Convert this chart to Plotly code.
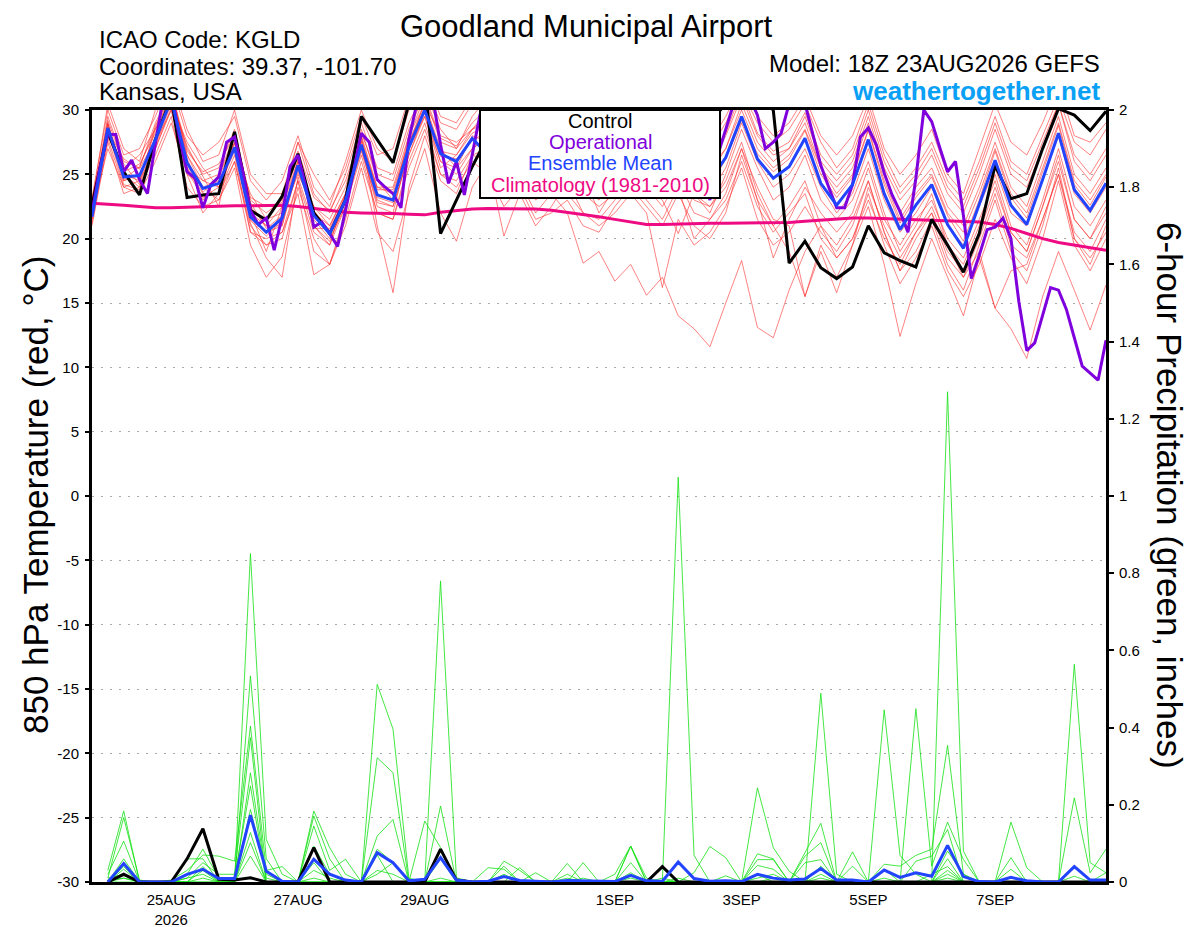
import pandas as pd
import plotly.graph_objects as go

# time axes: temperature every 6h from 18Z 23AUG, operational every 3h, precip accumulations end 00Z 24AUG
times = pd.date_range("2026-08-23 18:00", periods=65, freq="6h")
op_times = pd.date_range("2026-08-23 18:00", periods=129, freq="3h")
precip_times = pd.date_range("2026-08-24 00:00", periods=64, freq="6h")

tick_dates = ["2026-08-25", "2026-08-27", "2026-08-29", "2026-09-01", "2026-09-03", "2026-09-05", "2026-09-07"]
tick_text = ["25AUG<br>2026", "27AUG", "29AUG", "1SEP", "3SEP", "5SEP", "7SEP"]
temp_ticks = [-30, -25, -20, -15, -10, -5, 0, 5, 10, 15, 20, 25, 30]
precip_ticks = [0, 0.2, 0.4, 0.6, 0.8, 1, 1.2, 1.4, 1.6, 1.8, 2]

# 850 hPa temperature (C)
control_t = [22.6, 28.3, 25.2, 23.4, 27.7, 31.0, 23.2, 23.4, 23.5, 28.3,
             22.2, 21.45, 23.3, 26.6, 22.0, 20.4, 23.0, 29.5, 27.7, 25.9,
             30.5, 32.0, 20.4, 23.0, 25.6, 28.0, 29.5, 31.0, 28.0, 26.5,
             28.5, 30.0, 27.5, 26.0, 27.5, 29.0, 27.0, 25.5, 27.0, 29.0,
             30.5, 32.0, 31.0, 30.0, 18.1, 19.8, 17.75, 16.9, 17.8, 21.0,
             18.9, 18.3, 17.8, 21.5, 19.5, 17.4, 20.4, 25.7, 23.1, 23.5,
             27.0, 30.1, 29.6, 28.4, 29.9]

operational_t = [22.0, 25.5, 28.1, 28.1, 25.2, 26.1, 24.6, 23.5, 27.4, 31.0,
                 31.5, 28.0, 25.2, 24.7, 22.4, 24.2, 24.8, 27.5, 27.9, 25.3,
                 22.2, 21.1, 21.6, 19.1, 21.7, 25.6, 26.5, 24.0, 20.9, 21.3,
                 20.4, 19.4, 22.2, 25.3, 28.2, 27.5, 24.6, 24.0, 23.5, 22.4,
                 27.7, 30.5, 32.0, 31.0, 27.3, 24.3, 26.0, 23.4, 26.7, 29.7,
                 28.5, 27.0, 29.0, 30.5, 29.0, 27.0, 26.5, 28.0, 29.5, 27.5,
                 26.0, 27.0, 28.5, 29.0, 27.5, 26.0, 25.5, 27.0, 28.5, 30.0,
                 29.0, 27.5, 26.0, 25.0, 26.5, 28.0, 27.0, 25.0, 23.0, 26.5,
                 28.5, 30.5, 31.5, 31.0, 29.6, 27.0, 27.5, 28.2, 30.5, 31.5,
                 30.5, 28.0, 25.7, 24.0, 22.4, 22.4, 24.2, 27.9, 28.6, 27.3,
                 25.1, 23.4, 22.1, 20.5, 24.7, 30.0, 29.1, 27.1, 25.2, 26.0,
                 21.8, 16.9, 18.7, 20.7, 20.9, 21.6, 20.0, 15.1, 11.3, 11.9,
                 14.1, 16.2, 16.0, 14.5, 12.3, 10.1, 9.55, 9.0, 12.1]

ens_mean_t = [21.7, 28.6, 24.8, 24.9, 27.7, 30.8, 25.9, 23.9, 24.3, 27.1,
              21.7, 20.5, 21.6, 25.7, 21.8, 20.4, 23.0, 27.3, 23.4, 23.0,
              27.1, 30.0, 26.6, 26.0, 27.8, 26.5, 27.0, 26.0, 25.5, 26.0,
              26.5, 25.5, 24.5, 25.0, 26.0, 25.0, 24.5, 25.5, 24.0, 24.5,
              26.3, 29.5, 26.2, 24.7, 25.6, 27.8, 24.3, 22.6, 24.2, 27.7,
              23.5, 20.7, 22.6, 24.2, 21.1, 19.25, 22.6, 26.1, 22.6, 21.1,
              24.6, 28.2, 23.8, 22.2, 24.3]

climatology_t = [22.75, 22.7, 22.6, 22.5, 22.4, 22.4, 22.45, 22.5, 22.5, 22.55,
                 22.55, 22.6, 22.6, 22.5, 22.35, 22.2, 22.05, 22.0, 22.0, 21.95,
                 21.9, 21.85, 22.05, 22.2, 22.3, 22.35, 22.35, 22.35, 22.3, 22.2,
                 22.05, 21.9, 21.7, 21.5, 21.3, 21.1, 21.1, 21.15, 21.2, 21.2,
                 21.2, 21.2, 21.2, 21.2, 21.25, 21.35, 21.45, 21.55, 21.6, 21.6,
                 21.55, 21.5, 21.45, 21.4, 21.35, 21.35, 21.3, 21.1, 20.8, 20.4,
                 20.0, 19.7, 19.5, 19.3, 19.1]

# ensemble members, temperature
t_m01 = [22.5, 29.5, 26.0, 25.5, 29.0, 31.5, 27.0, 25.0, 25.5, 28.5, 23.0, 22.0, 23.0, 27.5, 23.5,
         22.0, 25.0, 29.0, 25.5, 25.0, 29.0, 31.5, 28.5, 27.0, 29.5, 31.0, 29.0, 30.5, 28.5, 28.0,
         29.5, 28.0, 27.5, 29.0, 30.5, 28.5, 27.0, 29.5, 27.0, 25.5, 28.0, 31.0, 28.0, 26.5, 27.0,
         29.5, 26.0, 24.5, 26.0, 29.5, 25.5, 23.0, 24.5, 26.5, 23.5, 22.0, 25.0, 28.5, 25.0, 24.0,
         27.0, 30.5, 26.5, 25.0, 27.0]
t_m02 = [21.0, 27.5, 23.5, 24.0, 26.5, 29.5, 24.0, 22.5, 23.0, 25.5, 19.5, 17.0, 18.6, 24.0, 20.0,
         18.0, 21.5, 26.0, 22.0, 21.5, 25.5, 28.5, 25.0, 24.0, 26.0, 25.0, 22.5, 24.0, 21.5, 22.0,
         23.0, 21.0, 20.5, 22.5, 24.0, 22.5, 21.0, 23.5, 21.0, 20.0, 22.0, 26.5, 23.0, 21.0, 22.5,
         24.5, 21.0, 19.5, 21.5, 24.5, 20.5, 17.5, 19.0, 21.5, 18.0, 16.0, 19.5, 23.0, 19.0, 17.5,
         21.0, 25.5, 20.0, 18.5, 20.5]
t_m03 = [22.0, 28.0, 25.0, 24.0, 28.0, 30.5, 26.5, 24.0, 23.0, 26.0, 21.0, 19.5, 20.0, 24.5, 19.0,
         18.0, 22.0, 28.0, 21.0, 15.8, 24.0, 28.0, 24.5, 23.5, 26.5, 26.0, 24.0, 24.5, 22.0, 23.5,
         22.0, 18.1, 19.0, 16.7, 18.0, 15.6, 17.0, 14.0, 13.0, 11.6, 15.0, 18.3, 13.1, 12.3, 16.0,
         19.0, 21.0, 18.5, 20.0, 23.0, 20.0, 18.0, 20.5, 22.0, 19.0, 17.5, 20.5, 24.0, 20.5, 19.0,
         22.5, 26.5, 21.5, 20.0, 22.5]
t_m04 = [23.0, 29.0, 24.5, 25.0, 27.0, 30.0, 25.5, 24.5, 24.0, 27.5, 22.5, 21.0, 21.0, 26.0, 22.5,
         21.0, 23.5, 27.5, 24.0, 23.5, 27.5, 30.5, 27.0, 25.5, 28.0, 27.5, 26.0, 27.0, 25.0, 24.5,
         25.5, 24.0, 23.0, 24.5, 26.0, 24.0, 22.5, 24.5, 22.0, 21.5, 23.5, 27.0, 24.0, 21.5, 21.0,
         15.5, 19.0, 15.8, 19.5, 22.5, 18.0, 12.4, 16.5, 20.0, 17.0, 14.0, 18.5, 14.6, 13.0, 10.7,
         15.5, 19.0, 16.0, 12.9, 16.4]
t_m05 = [22.8, 30.5, 27.0, 26.0, 30.0, 32.0, 28.0, 26.5, 27.5, 29.5, 24.5, 23.0, 24.5, 28.0, 24.0,
         22.5, 26.0, 30.0, 27.0, 26.0, 30.0, 32.0, 29.0, 28.5, 30.5, 32.0, 30.5, 31.5, 30.0, 29.5,
         31.0, 30.0, 29.0, 30.5, 31.5, 30.0, 29.0, 31.0, 28.5, 27.5, 29.5, 32.0, 29.5, 28.0, 29.0,
         31.0, 28.0, 26.5, 28.0, 31.0, 27.0, 25.0, 26.5, 28.5, 25.0, 23.5, 27.0, 30.5, 27.5, 26.5,
         29.0, 32.0, 28.0, 27.5, 29.0]
t_m06 = [21.5, 28.0, 25.5, 26.5, 28.5, 31.0, 26.0, 23.0, 25.0, 28.0, 22.0, 19.0, 22.5, 26.5, 21.0,
         19.5, 23.5, 27.0, 22.5, 22.0, 27.0, 29.5, 25.5, 26.5, 28.5, 29.0, 27.5, 26.0, 27.0, 25.5,
         27.0, 25.0, 22.0, 24.0, 27.0, 25.5, 24.0, 26.0, 23.5, 22.0, 25.0, 28.5, 25.5, 23.0, 24.0,
         26.5, 23.0, 21.5, 23.0, 26.0, 22.0, 19.0, 21.0, 23.5, 19.5, 18.0, 21.0, 25.0, 21.0, 19.5,
         23.0, 27.0, 22.5, 21.0, 23.0]
t_m07 = [22.0, 27.0, 24.0, 23.5, 26.0, 29.0, 25.0, 22.0, 23.5, 26.5, 20.5, 20.0, 20.5, 23.5, 17.2,
         18.0, 21.0, 25.5, 20.5, 19.0, 23.5, 27.0, 22.0, 19.8, 24.0, 26.0, 20.2, 23.5, 21.0, 22.5,
         24.5, 22.0, 21.5, 23.0, 25.5, 23.0, 21.5, 24.0, 20.0, 21.5, 23.0, 26.0, 22.5, 20.5, 22.0,
         23.5, 20.0, 18.5, 20.0, 23.5, 19.5, 16.5, 18.5, 21.0, 17.5, 15.5, 18.0, 21.5, 18.5, 16.5,
         20.0, 24.5, 19.5, 17.5, 20.0]
t_m08 = [22.3, 29.0, 25.0, 24.5, 28.5, 30.5, 27.5, 25.5, 24.0, 27.0, 23.5, 21.5, 22.0, 25.0, 22.5,
         21.5, 24.0, 28.5, 24.5, 23.0, 28.0, 30.5, 28.0, 27.5, 28.5, 30.0, 28.5, 29.0, 27.5, 27.0,
         28.5, 27.0, 26.5, 28.0, 29.0, 27.5, 26.0, 28.0, 26.0, 25.0, 27.0, 30.0, 27.0, 25.5, 26.5,
         28.5, 25.5, 23.5, 25.0, 28.5, 24.5, 21.5, 23.5, 25.0, 22.0, 20.5, 23.5, 27.0, 23.5, 22.0,
         25.5, 29.0, 24.5, 23.0, 25.0]
t_m09 = [21.8, 28.5, 24.5, 25.0, 27.5, 30.0, 25.0, 24.0, 24.5, 27.0, 21.5, 20.5, 21.0, 25.5, 21.5,
         20.0, 22.5, 27.0, 23.0, 22.5, 26.5, 29.5, 26.0, 25.5, 27.0, 28.0, 26.5, 27.5, 26.0, 25.5,
         26.5, 25.5, 24.5, 25.5, 26.5, 25.5, 24.0, 25.0, 23.0, 22.5, 24.5, 27.5, 23.5, 21.0, 19.0,
         15.5, 19.5, 17.0, 19.5, 24.0, 21.0, 18.5, 20.5, 22.5, 19.5, 17.0, 19.0, 14.6, 17.5, 18.0,
         21.5, 25.0, 20.5, 19.0, 21.5]
t_m10 = [22.6, 28.8, 25.2, 25.8, 28.2, 31.5, 26.5, 24.5, 25.0, 27.5, 22.0, 21.0, 22.5, 26.0, 22.0,
         21.0, 23.5, 28.0, 24.0, 24.0, 28.0, 31.0, 27.5, 27.0, 28.5, 29.5, 28.0, 28.5, 27.5, 27.0,
         28.0, 27.5, 26.5, 27.5, 28.5, 27.5, 27.0, 28.5, 26.5, 25.5, 27.0, 30.5, 27.5, 26.0, 27.0,
         29.0, 25.5, 24.0, 25.5, 29.0, 25.0, 22.0, 24.0, 25.5, 22.5, 21.0, 24.0, 27.5, 24.0, 22.5,
         26.0, 29.5, 25.0, 23.5, 25.5]
t_m11 = [21.2, 27.8, 24.0, 24.5, 27.0, 30.2, 25.5, 23.5, 23.5, 26.0, 20.5, 19.5, 20.5, 24.5, 20.5,
         19.5, 22.5, 26.5, 22.0, 21.5, 26.0, 29.0, 25.0, 24.5, 26.5, 27.0, 25.0, 26.0, 24.5, 23.5,
         25.0, 23.5, 22.5, 23.5, 25.0, 24.0, 23.0, 20.4, 23.5, 22.5, 24.0, 27.0, 23.0, 18.5, 21.5,
         24.0, 22.0, 20.5, 22.0, 25.5, 21.5, 19.5, 21.5, 23.0, 20.0, 18.5, 21.5, 24.5, 20.5, 19.0,
         22.5, 26.0, 21.5, 20.0, 22.0]
t_m12 = [23.2, 30.0, 26.5, 27.0, 29.5, 32.5, 28.5, 26.0, 26.5, 30.0, 25.0, 23.5, 23.5, 27.5, 25.0,
         23.0, 25.5, 29.5, 26.5, 27.0, 31.0, 32.5, 29.5, 29.0, 31.0, 31.5, 29.5, 30.5, 29.5, 28.5,
         30.0, 29.5, 28.0, 29.5, 30.5, 29.5, 28.5, 30.0, 28.0, 27.0, 29.0, 31.5, 29.0, 27.5, 28.5,
         30.5, 27.5, 25.5, 27.0, 30.5, 26.5, 24.0, 25.5, 27.5, 24.5, 23.0, 26.0, 29.5, 26.0, 25.0,
         28.0, 31.0, 27.5, 26.5, 28.5]
t_m13 = [21.5, 28.3, 24.2, 23.8, 27.2, 30.5, 25.3, 23.2, 24.0, 26.8, 21.2, 18.5, 17.0, 24.8, 21.0,
         19.8, 22.8, 26.8, 22.8, 22.5, 26.5, 29.8, 26.0, 25.0, 27.0, 27.8, 26.5, 25.5, 23.0, 24.0,
         23.5, 22.0, 21.0, 22.0, 23.5, 22.0, 16.2, 21.5, 19.5, 20.5, 22.5, 25.5, 21.5, 19.5, 20.5,
         22.5, 20.5, 19.0, 21.0, 24.5, 20.5, 17.5, 20.0, 22.0, 18.5, 17.0, 20.0, 23.5, 19.5, 18.5,
         21.5, 25.0, 20.0, 18.0, 21.0]
t_m14 = [22.4, 29.2, 25.8, 24.2, 28.8, 31.2, 26.8, 25.2, 25.8, 28.0, 23.2, 22.5, 22.8, 26.8, 23.2,
         22.2, 24.5, 28.2, 25.0, 24.5, 28.5, 31.2, 27.8, 27.2, 29.0, 30.2, 28.5, 29.5, 28.0, 27.5,
         29.0, 28.0, 27.5, 28.5, 29.5, 28.0, 27.5, 29.0, 27.0, 26.5, 28.2, 31.5, 28.2, 26.8, 27.5,
         29.8, 26.5, 25.0, 26.5, 30.0, 26.0, 23.5, 25.0, 27.0, 24.0, 22.5, 25.5, 29.0, 25.5, 24.5,
         27.5, 30.5, 26.0, 24.5, 26.5]
t_m15 = [22.1, 28.4, 26.2, 25.4, 27.8, 30.6, 27.2, 24.8, 22.5, 28.2, 22.8, 20.8, 21.8, 26.2, 20.8,
         20.8, 23.2, 27.8, 23.8, 23.8, 27.5, 30.2, 26.8, 26.5, 28.2, 28.8, 27.2, 27.8, 26.5, 26.0,
         27.0, 26.0, 25.0, 26.5, 27.5, 26.5, 25.5, 27.0, 24.5, 23.5, 25.5, 29.0, 26.0, 24.0, 25.0,
         27.0, 24.0, 22.0, 23.5, 27.0, 23.0, 20.5, 22.0, 24.0, 21.0, 19.5, 22.5, 25.5, 22.0, 21.0,
         24.5, 28.0, 23.5, 22.0, 24.0]
t_m16 = [21.9, 28.9, 24.6, 25.6, 28.6, 31.8, 26.2, 23.6, 24.8, 27.4, 21.4, 20.2, 21.4, 25.2, 22.2,
         20.6, 23.4, 27.6, 23.2, 22.8, 27.2, 30.6, 26.4, 26.2, 27.6, 28.4, 27.0, 27.4, 26.2, 26.8,
         27.8, 26.6, 25.6, 26.2, 27.2, 26.4, 25.8, 26.8, 25.0, 24.0, 26.2, 29.2, 26.6, 25.2, 26.2,
         28.4, 25.0, 23.2, 24.8, 28.4, 24.2, 21.2, 23.2, 24.8, 21.8, 19.8, 23.0, 26.8, 23.2, 21.6,
         25.2, 28.8, 24.2, 22.6, 24.8]

# 6-hour precipitation (inches)
control_p = [0, 0.02, 0, 0, 0, 0.06, 0.138, 0.007,
             0.005, 0.011, 0, 0, 0, 0.089, 0, 0,
             0, 0, 0, 0, 0, 0.085, 0.005, 0,
             0, 0, 0, 0, 0, 0, 0, 0,
             0, 0, 0, 0.04, 0, 0, 0, 0,
             0, 0, 0, 0, 0, 0, 0, 0,
             0, 0, 0, 0, 0, 0, 0, 0,
             0, 0, 0, 0, 0, 0, 0, 0]
ens_mean_p = [0, 0.048, 0, 0, 0, 0.02, 0.033, 0.009,
              0.009, 0.173, 0.028, 0.002, 0, 0.059, 0.02, 0.005,
              0, 0.076, 0.05, 0.003, 0.007, 0.063, 0.005, 0,
              0.002, 0.014, 0.004, 0.002, 0, 0.004, 0.003, 0.002,
              0.001, 0.017, 0.003, 0.002, 0.052, 0.009, 0.002, 0.003,
              0.001, 0.02, 0.01, 0.005, 0.008, 0.035, 0.005, 0.005,
              0, 0.031, 0.012, 0.024, 0.015, 0.095, 0.014, 0.001,
              0, 0.012, 0.003, 0, 0, 0.04, 0.005, 0.005]

p_m01 = [0.03, 0.184, 0, 0, 0, 0.02, 0.085, 0.01, 0, 0.851, 0.11, 0.02, 0, 0.184, 0.089, 0.02,
         0, 0.02, 0.05, 0, 0, 0.78, 0.011, 0, 0, 0.054, 0.03, 0, 0, 0.048, 0, 0,
         0, 0.093, 0, 0, 1.049, 0.069, 0, 0, 0, 0.01, 0.02, 0, 0, 0.041, 0, 0,
         0, 0.033, 0, 0.449, 0.041, 0.155, 0.058, 0, 0, 0.155, 0.037, 0, 0, 0.015, 0, 0.024]
p_m02 = [0.01, 0.167, 0.005, 0, 0, 0.06, 0.06, 0, 0, 0.534, 0.06, 0, 0, 0.171, 0.06, 0,
         0, 0.512, 0.396, 0.01, 0, 0.197, 0, 0, 0, 0.041, 0, 0.024, 0, 0, 0.05, 0,
         0.02, 0.093, 0.01, 0, 0, 0.024, 0.092, 0.063, 0, 0.244, 0.089, 0.028, 0, 0.489, 0.02, 0,
         0, 0.446, 0.069, 0.02, 0, 1.27, 0.08, 0, 0, 0.063, 0, 0, 0, 0.564, 0.05, 0.024]
p_m03 = [0.02, 0.106, 0, 0, 0.005, 0.03, 0.07, 0.067, 0.054, 0.404, 0.03, 0.04, 0, 0.145, 0.03, 0.059,
         0, 0.322, 0.283, 0, 0.158, 0.089, 0, 0, 0.037, 0.033, 0, 0, 0, 0.02, 0, 0,
         0, 0.05, 0, 0.01, 0, 0, 0, 0.016, 0, 0.073, 0.06, 0, 0.078, 0.152, 0, 0.078,
         0, 0.046, 0.041, 0.069, 0.085, 0.354, 0.02, 0, 0, 0.033, 0, 0, 0, 0.218, 0.024, 0.085]
p_m04 = [0, 0.06, 0, 0, 0, 0.01, 0.05, 0.02, 0.02, 0.374, 0, 0, 0, 0.093, 0.02, 0,
         0, 0.119, 0.162, 0, 0, 0.06, 0, 0, 0, 0, 0.037, 0, 0, 0, 0, 0,
         0, 0.024, 0, 0, 0.01, 0, 0, 0, 0, 0.058, 0.058, 0, 0.067, 0.102, 0, 0.041,
         0, 0, 0, 0.054, 0.067, 0.136, 0, 0, 0, 0, 0, 0, 0, 0, 0, 0]
p_m05 = [0, 0.033, 0, 0, 0, 0, 0.04, 0, 0, 0.283, 0.01, 0, 0, 0.05, 0, 0,
         0, 0.085, 0.05, 0, 0, 0, 0, 0, 0, 0, 0, 0, 0, 0, 0.01, 0,
         0, 0.093, 0, 0, 0, 0, 0, 0, 0, 0.043, 0.033, 0, 0.05, 0.058, 0, 0,
         0, 0.01, 0, 0, 0, 0.08, 0.02, 0, 0, 0, 0, 0, 0, 0, 0, 0]
p_m06 = [0.01, 0.02, 0, 0, 0, 0, 0.03, 0, 0.01, 0.249, 0, 0, 0, 0.03, 0.01, 0,
         0, 0.07, 0, 0, 0, 0.01, 0, 0, 0, 0, 0, 0, 0, 0, 0, 0,
         0, 0, 0, 0, 0, 0, 0, 0, 0, 0.02, 0, 0, 0, 0.02, 0, 0,
         0, 0, 0, 0, 0.02, 0.04, 0, 0, 0, 0, 0, 0, 0, 0, 0, 0]
p_m07 = [0, 0.04, 0, 0, 0, 0.01, 0.02, 0, 0, 0.188, 0.02, 0, 0, 0.01, 0, 0,
         0, 0.03, 0.02, 0, 0, 0, 0, 0, 0, 0.02, 0, 0, 0, 0.01, 0, 0,
         0, 0.01, 0, 0, 0, 0, 0, 0, 0, 0, 0.01, 0, 0, 0.01, 0, 0,
         0, 0, 0, 0, 0, 0.06, 0, 0, 0, 0, 0, 0, 0, 0, 0, 0]
p_m08 = [0.005, 0.01, 0, 0, 0, 0, 0.01, 0, 0, 0.128, 0, 0, 0, 0, 0, 0,
         0, 0, 0, 0, 0, 0, 0, 0, 0, 0, 0, 0, 0, 0, 0, 0,
         0, 0, 0, 0, 0, 0, 0, 0, 0, 0, 0, 0, 0, 0, 0, 0,
         0, 0, 0, 0, 0, 0.03, 0, 0, 0, 0, 0, 0, 0, 0, 0, 0]
p_m09 = [0, 0.01, 0, 0, 0, 0, 0, 0, 0, 0.102, 0, 0, 0, 0, 0, 0,
         0, 0, 0, 0, 0, 0, 0, 0, 0, 0, 0, 0, 0, 0, 0, 0,
         0, 0, 0, 0, 0, 0, 0, 0, 0, 0, 0, 0, 0, 0, 0, 0,
         0, 0, 0, 0, 0, 0.02, 0, 0, 0, 0, 0, 0, 0, 0, 0, 0]
p_m10 = [0, 0, 0, 0, 0, 0, 0, 0, 0, 0.067, 0, 0, 0, 0, 0, 0,
         0, 0, 0, 0, 0, 0, 0, 0, 0, 0, 0, 0, 0, 0, 0, 0,
         0, 0, 0, 0, 0, 0, 0, 0, 0, 0, 0, 0, 0, 0, 0, 0,
         0, 0, 0, 0, 0, 0.01, 0, 0, 0, 0, 0, 0, 0, 0, 0, 0]

temp_members = [t_m01, t_m02, t_m03, t_m04, t_m05, t_m06, t_m07, t_m08,
                t_m09, t_m10, t_m11, t_m12, t_m13, t_m14, t_m15, t_m16]
precip_members = [p_m01, p_m02, p_m03, p_m04, p_m05, p_m06, p_m07, p_m08, p_m09, p_m10]

FONT = "Liberation Sans, Arial, Helvetica, sans-serif"
PURPLE = "#7f00dc"
BLUE = "#2244ff"
PINK = "#ee0a82"

fig = go.Figure()

for m in temp_members:
    fig.add_trace(go.Scatter(x=times, y=m, mode="lines",
                             line=dict(color="rgba(255,45,45,0.75)", width=0.8),
                             hoverinfo="skip", showlegend=False))

fig.add_trace(go.Scatter(x=times, y=climatology_t, mode="lines",
                         line=dict(color=PINK, width=3), showlegend=False))
fig.add_trace(go.Scatter(x=times, y=control_t, mode="lines",
                         line=dict(color="black", width=3), showlegend=False))
fig.add_trace(go.Scatter(x=op_times, y=operational_t, mode="lines",
                         line=dict(color=PURPLE, width=3), showlegend=False))
fig.add_trace(go.Scatter(x=times, y=ens_mean_t, mode="lines",
                         line=dict(color=BLUE, width=3), showlegend=False))

for m in precip_members:
    fig.add_trace(go.Scatter(x=precip_times, y=m, mode="lines", yaxis="y2",
                             line=dict(color="rgb(20,225,20)", width=0.8),
                             hoverinfo="skip", showlegend=False))
fig.add_trace(go.Scatter(x=precip_times, y=control_p, mode="lines", yaxis="y2",
                         line=dict(color="black", width=3), showlegend=False))
fig.add_trace(go.Scatter(x=precip_times, y=ens_mean_p, mode="lines", yaxis="y2",
                         line=dict(color=BLUE, width=3), showlegend=False))

# plot area on screen: x 92..1106, y 110..882 (page body adds an 8px offset)
def px_x(x):
    return (x - 92) / 1014

def px_y(y):
    return (882 - y) / 772

annotations = [
    dict(text="Goodland Municipal Airport", x=px_x(586), y=px_y(26), font=dict(size=31)),
    dict(text="ICAO Code: KGLD", x=px_x(97), y=px_y(40), xanchor="left", font=dict(size=24)),
    dict(text="Coordinates: 39.37, -101.70", x=px_x(97), y=px_y(66), xanchor="left", font=dict(size=24)),
    dict(text="Kansas, USA", x=px_x(97), y=px_y(92), xanchor="left", font=dict(size=24)),
    dict(text="Model: 18Z 23AUG2026 GEFS", x=px_x(1102), y=px_y(63), xanchor="right", font=dict(size=24)),
    dict(text="<b>weathertogether.net</b>", x=px_x(1102), y=px_y(91), xanchor="right",
         font=dict(size=26, color="#0aa0f5")),
    dict(text="850 hPa Temperature (red, °C)", x=px_x(35), y=px_y(495), textangle=-90, font=dict(size=35)),
    dict(text="6-hour Precipitation (green, inches)", x=px_x(1170), y=px_y(495), textangle=90, font=dict(size=35)),
    dict(text="Control", x=px_x(600), y=px_y(121), font=dict(size=20)),
    dict(text="Operational", x=px_x(600), y=px_y(142), font=dict(size=20, color=PURPLE)),
    dict(text="Ensemble Mean", x=px_x(600), y=px_y(163), font=dict(size=20, color=BLUE)),
    dict(text="Climatology (1981-2010)", x=px_x(600), y=px_y(185), font=dict(size=20, color=PINK)),
]
for a in annotations:
    a.setdefault("xanchor", "center")
    a.update(xref="paper", yref="paper", yanchor="middle", showarrow=False)
    a["font"].setdefault("color", "black")
    a["font"]["family"] = FONT

fig.update_layout(
    width=1192, height=919,
    margin=dict(l=84, r=94, t=102, b=45),
    paper_bgcolor="white", plot_bgcolor="white",
    font=dict(family=FONT, color="black", size=15),
    showlegend=False,
    annotations=annotations,
    shapes=[dict(type="rect", xref="paper", yref="paper",
                 x0=px_x(480), x1=px_x(720), y0=px_y(198), y1=1.0,
                 fillcolor="white", line=dict(color="black", width=2), layer="above")],
    xaxis=dict(type="date", range=[times[0], times[-1]], automargin=False,
               tickmode="array", tickvals=tick_dates, ticktext=tick_text,
               showgrid=False, zeroline=False, ticks="",
               showline=True, linecolor="black", linewidth=3, mirror=True,
               ticklabelstandoff=2, tickfont=dict(size=15)),
    yaxis=dict(range=[-30, 30], automargin=False, tickmode="array", tickvals=temp_ticks,
               ticktext=[str(v) for v in temp_ticks],
               showgrid=True, gridcolor="#aaaaaa", griddash="2px,7px", gridwidth=1,
               zeroline=False, showline=True, linecolor="black", linewidth=3,
               ticks="outside", ticklen=4, tickwidth=2, tickcolor="black",
               ticklabelstandoff=3, tickfont=dict(size=15)),
    yaxis2=dict(range=[0, 2], automargin=False, overlaying="y", side="right", tickmode="array",
                tickvals=precip_ticks, ticktext=[f"{v:g}" for v in precip_ticks],
                showgrid=False, zeroline=False, showline=True, linecolor="black", linewidth=3,
                ticks="outside", ticklen=5, tickwidth=2, tickcolor="black",
                ticklabelstandoff=2, tickfont=dict(size=15)),
)

fig.write_html("out.html")
